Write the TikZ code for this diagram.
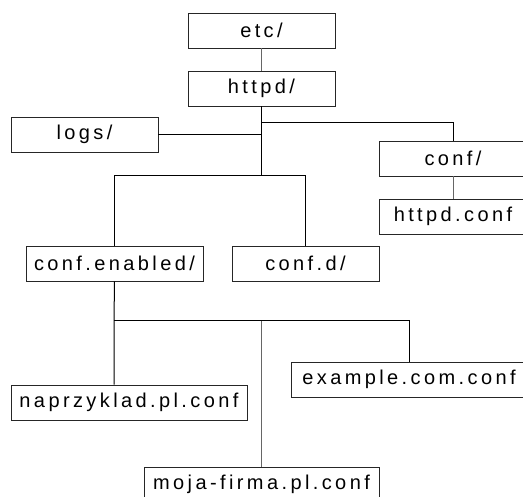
\documentclass[tikz,border=0pt]{standalone}
\usepackage{fontspec}
\setmainfont{Liberation Sans}[LetterSpace=17]
\begin{document}
\begin{tikzpicture}[x=1pt,y=-1pt,
  dirbox/.style={draw=black!85, line width=0.9pt, minimum height=35pt, inner sep=0pt, font=\fontsize{20}{24}\selectfont, anchor=center},
  std/.style={dirbox, minimum width=147pt},
  wide/.style={dirbox, minimum width=236pt},
  link/.style={draw=black, line width=1pt},
  glink/.style={draw=black!60, line width=1pt}]
\useasboundingbox (0,0) rectangle (523,497);
\node[std] (etc) at (261.5,30.5) {etc/};
\node[std] (httpd) at (261.5,88.5) {httpd/};
\node[std] (logs) at (84.5,134.5) {logs/};
\node[dirbox, minimum width=148pt] (conf) at (453,158.5) {conf/};
\node[dirbox, minimum width=148pt] (hconf) at (453,216.5) {httpd.conf};
\node[dirbox, minimum width=177pt] (confen) at (114.5,263.5) {conf.enabled/};
\node[std] (confd) at (305.5,263.5) {conf.d/};
\node[wide] (naprz) at (129,402.5) {naprzyklad.pl.conf};
\node[wide] (example) at (409,379.5) {example.com.conf};
\node[dirbox, minimum width=235pt] (moja) at (261.5,484.5) {moja-firma.pl.conf};

\coordinate (j0) at (261.5,123);
\coordinate (j1) at (261.5,176);
\coordinate (j2) at (114,321);

\draw[glink] (etc.south) -- (httpd.north);
\draw[link] (httpd.south) -- (j1);
\draw[link] (j0) -| (conf.north);
\draw[link] (logs.east) -- (logs.east -| j1);
\draw[glink] (conf.south) -- (hconf.north);
\draw[link] (j1) -- (j1 -| confen.north) -- (confen.north);
\draw[link] (j1) -- (j1 -| confd.north) -- (confd.north);
\draw[link] (confen.south) -- (j2) -- (j2 |- naprz.north);
\draw[link] (j2) -- (j2 -| example.north) -- (example.north);
\draw[glink] (j2 -| moja.north) -- (moja.north);
\end{tikzpicture}
\end{document}
